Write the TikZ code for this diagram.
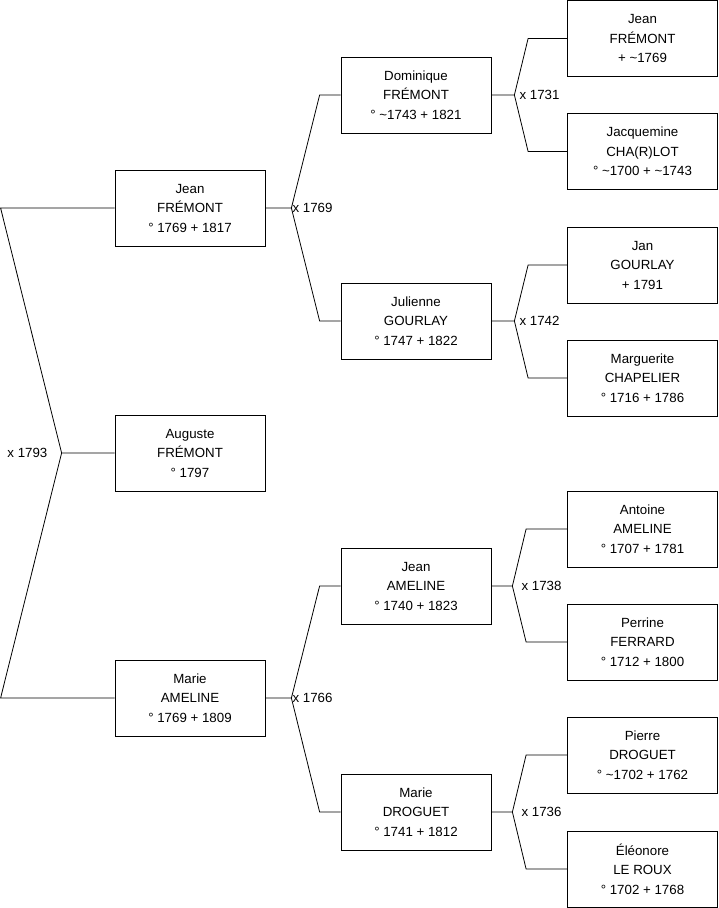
\documentclass[tikz,border=0pt]{standalone}
\usepackage{fontspec}
\setmainfont{Liberation Sans}
\usetikzlibrary{positioning}

\begin{document}
\begin{tikzpicture}[
    x=1pt, y=-1pt,
    font=\fontsize{13.3}{19.5}\selectfont,
    person/.style={draw, line width=0.8pt, minimum width=150pt, minimum height=76pt, align=center, inner sep=2pt},
    link/.style={line width=0.8pt},
    wed/.style={inner sep=1pt}
]
    \useasboundingbox (0,0) rectangle (719,908);

    % Generation 0 and 1
    \node[person] (auguste) at (190,453) {Auguste\\FRÉMONT\\° 1797};
    \node[person] (jean)    at (190,208) {Jean\\FRÉMONT\\° 1769 + 1817};
    \node[person] (marie)   at (190,698) {Marie\\AMELINE\\° 1769 + 1809};

    % Generation 2
    \node[person] (dominique) at (416,95)  {Dominique\\FRÉMONT\\° \textasciitilde1743 + 1821};
    \node[person] (julienne)  at (416,321) {Julienne\\GOURLAY\\° 1747 + 1822};
    \node[person] (jeanA)     at (416,586) {Jean\\AMELINE\\° 1740 + 1823};
    \node[person] (marieD)    at (416,812) {Marie\\DROGUET\\° 1741 + 1812};

    % Generation 3
    \node[person] (jeanF)       at (642.5,38.5)  {Jean\\FRÉMONT\\+ \textasciitilde1769};
    \node[person] (jacquemine)  at (642.5,151.5) {Jacquemine\\CHA(R)LOT\\° \textasciitilde1700 + \textasciitilde1743};
    \node[person] (jan)         at (642.5,265)   {Jan\\GOURLAY\\+ 1791};
    \node[person] (marguerite)  at (642.5,378)   {Marguerite\\CHAPELIER\\° 1716 + 1786};
    \node[person] (antoine)     at (642.5,529)   {Antoine\\AMELINE\\° 1707 + 1781};
    \node[person] (perrine)     at (642.5,642)   {Perrine\\FERRARD\\° 1712 + 1800};
    \node[person] (pierre)      at (642.5,755)   {Pierre\\DROGUET\\° \textasciitilde1702 + 1762};
    \node[person] (eleonore)    at (642.5,869)   {Éléonore\\LE ROUX\\° 1702 + 1768};

    % Junctions
    \coordinate (w0) at ([xshift=-53pt]auguste.west);
    \coordinate (w1) at ([xshift=26pt]jean.east);
    \coordinate (w2) at ([xshift=26pt]marie.east);
    \coordinate (w3) at ([xshift=23pt]dominique.east);
    \coordinate (w4) at ([xshift=23pt]julienne.east);
    \coordinate (w5) at ([xshift=21pt]jeanA.east);
    \coordinate (w6) at ([xshift=21pt]marieD.east);

    % Connectors
    \draw[link] (auguste.west) -- (w0) -- ([xshift=-114pt]jean.west) -- (jean.west);
    \draw[link] (w0) -- ([xshift=-114pt]marie.west) -- (marie.west);

    \draw[link] (jean.east) -- (w1) -- ([xshift=-21pt]dominique.west) -- (dominique.west);
    \draw[link] (w1) -- ([xshift=-21pt]julienne.west) -- (julienne.west);
    \draw[link] (marie.east) -- (w2) -- ([xshift=-21pt]jeanA.west) -- (jeanA.west);
    \draw[link] (w2) -- ([xshift=-21pt]marieD.west) -- (marieD.west);

    \draw[link] (dominique.east) -- (w3) -- ([xshift=-39pt]jeanF.west) -- (jeanF.west);
    \draw[link] (w3) -- ([xshift=-39pt]jacquemine.west) -- (jacquemine.west);
    \draw[link] (julienne.east) -- (w4) -- ([xshift=-39pt]jan.west) -- (jan.west);
    \draw[link] (w4) -- ([xshift=-39pt]marguerite.west) -- (marguerite.west);
    \draw[link] (jeanA.east) -- (w5) -- ([xshift=-41pt]antoine.west) -- (antoine.west);
    \draw[link] (w5) -- ([xshift=-41pt]perrine.west) -- (perrine.west);
    \draw[link] (marieD.east) -- (w6) -- ([xshift=-41pt]pierre.west) -- (pierre.west);
    \draw[link] (w6) -- ([xshift=-41pt]eleonore.west) -- (eleonore.west);

    % Marriage years
    \node[wed, anchor=east] (m1793) at ([xshift=-13pt]w0) {x 1793};
    \node[wed, anchor=west] (m1769) at (w1) {x 1769};
    \node[wed, anchor=west] (m1766) at (w2) {x 1766};
    \node[wed, anchor=west] (m1731) at ([xshift=4pt]w3) {x 1731};
    \node[wed, anchor=west] (m1742) at ([xshift=4pt]w4) {x 1742};
    \node[wed, anchor=west] (m1738) at ([xshift=8pt]w5) {x 1738};
    \node[wed, anchor=west] (m1736) at ([xshift=8pt]w6) {x 1736};

\end{tikzpicture}
\end{document}
